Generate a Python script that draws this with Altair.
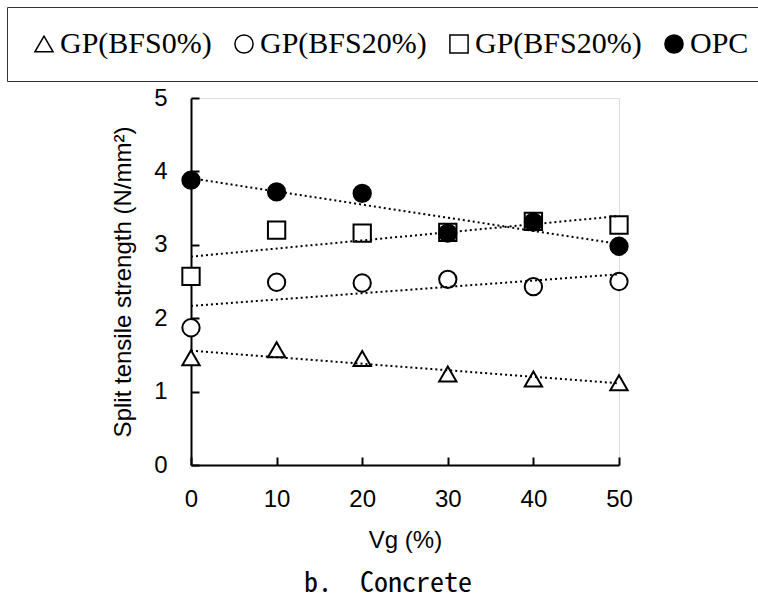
import altair as alt
import pandas as pd

# Coarse aggregate volume fraction Vg (%)
vg = [0, 10, 20, 30, 40, 50]

# Split tensile strength (N/mm2) for each mix
gp_bfs0 = [1.46, 1.57, 1.45, 1.24, 1.17, 1.12]
gp_bfs20_ring = [1.87, 2.49, 2.48, 2.53, 2.43, 2.50]
gp_bfs20_box = [2.57, 3.20, 3.16, 3.17, 3.32, 3.27]
opc = [3.88, 3.72, 3.70, 3.16, 3.31, 2.98]

series_keys = ["tri", "ring", "box", "opc"]
series_labels = ["GP(BFS0%)", "GP(BFS20%)", "GP(BFS20%)", "OPC"]
series_shapes = ["triangle-up", "circle", "square", "circle"]
series_fills = ["white", "white", "white", "black"]
series_strokes = ["black", "black", "black", "black"]
series_values = [gp_bfs0, gp_bfs20_ring, gp_bfs20_box, opc]

x_ticks = [0, 10, 20, 30, 40, 50]
y_ticks = [0, 1, 2, 3, 4, 5]

rows = []
for key, vals in zip(series_keys, series_values):
    for x, v in zip(vg, vals):
        rows.append({"vg": x, "val": v, "key": key})
df = pd.DataFrame(rows)

label_expr = " : ".join(
    f"datum.value == '{k}' ? '{lab}'" for k, lab in zip(series_keys[:-1], series_labels[:-1])
) + f" : '{series_labels[-1]}'"

SANS = "Liberation Sans"

legend = alt.Legend(
    title=None,
    orient="none",
    legendX=-184,
    legendY=-91,
    direction="horizontal",
    columns=4,
    labelFont="Liberation Serif",
    labelFontSize=30,
    labelColor="black",
    labelLimit=400,
    labelOffset=1,
    labelExpr=label_expr,
    symbolSize=330,
    symbolStrokeColor="black",
    symbolStrokeWidth=1.5,
    symbolOpacity=1,
    strokeColor="#333333",
    padding=22,
    columnPadding=17,
)

x_enc = alt.X(
    "vg:Q",
    scale=alt.Scale(domain=[0, 50], nice=False, zero=False),
    axis=alt.Axis(
        values=x_ticks,
        title="Vg (%)",
        grid=False,
        labelFont=SANS,
        labelFontSize=24,
        labelColor="black",
        labelPadding=30,
        labelFlush=False,
        titleFont=SANS,
        titleFontSize=24,
        titleFontWeight="normal",
        titleColor="black",
        titlePadding=17,
        tickSize=alt.ExprRef("-8"),
        tickColor="black",
        tickWidth=2,
        domainColor="black",
        domainWidth=2,
    ),
)
y_enc = alt.Y(
    "val:Q",
    scale=alt.Scale(domain=[0, 5], nice=False),
    axis=alt.Axis(
        values=y_ticks,
        format="d",
        title="Split tensile strength (N/mm²)",
        grid=False,
        labelFont=SANS,
        labelFontSize=24,
        labelColor="black",
        labelPadding=32,
        labelFlush=False,
        titleFont=SANS,
        titleFontSize=24,
        titleFontWeight="normal",
        titleColor="black",
        titlePadding=18,
        tickSize=alt.ExprRef("-8"),
        tickColor="black",
        tickWidth=2,
        domainColor="black",
        domainWidth=2,
    ),
)

base = alt.Chart(df)

points = base.mark_point(
    filled=True, size=300, strokeWidth=2, opacity=1
).encode(
    x=x_enc,
    y=y_enc,
    shape=alt.Shape("key:N", scale=alt.Scale(domain=series_keys, range=series_shapes), legend=legend),
    fill=alt.Fill("key:N", scale=alt.Scale(domain=series_keys, range=series_fills), legend=legend),
    stroke=alt.Stroke("key:N", scale=alt.Scale(domain=series_keys, range=series_strokes), legend=legend),
    order=alt.Order("order_idx:Q"),
).transform_calculate(order_idx="indexof(" + str(series_keys).replace('"', "'") + ", datum.key)")

# least-squares trend line for each mix
trends = base.transform_regression(
    "vg", "val", groupby=["key"], extent=[0, 50]
).mark_line(color="black", strokeDash=[2, 3], strokeWidth=2).encode(
    x=alt.X("vg:Q"),
    y=alt.Y("val:Q"),
    detail="key:N",
)

chart = (
    alt.layer(points, trends)
    .properties(
        width=428,
        height=367,
        autosize=alt.AutoSizeParams(type="none"),
        padding={"left": 191, "top": 98, "right": 139, "bottom": 138},
        title=alt.TitleParams(
            "b.\u3000Concrete",
            orient="bottom",
            anchor="middle",
            frame="group",
            font="Noto Sans Mono CJK JP, Liberation Mono, monospace",
            fontSize=28,
            fontWeight="normal",
            color="black",
            offset=18,
            dx=-17,
        ),
    )
    .configure_view(stroke="black", strokeWidth=2)
    .configure_legend(strokeWidth=2)
    .configure(background="white")
)

chart.save("out.html", embed_options={"renderer": "svg", "actions": False})
